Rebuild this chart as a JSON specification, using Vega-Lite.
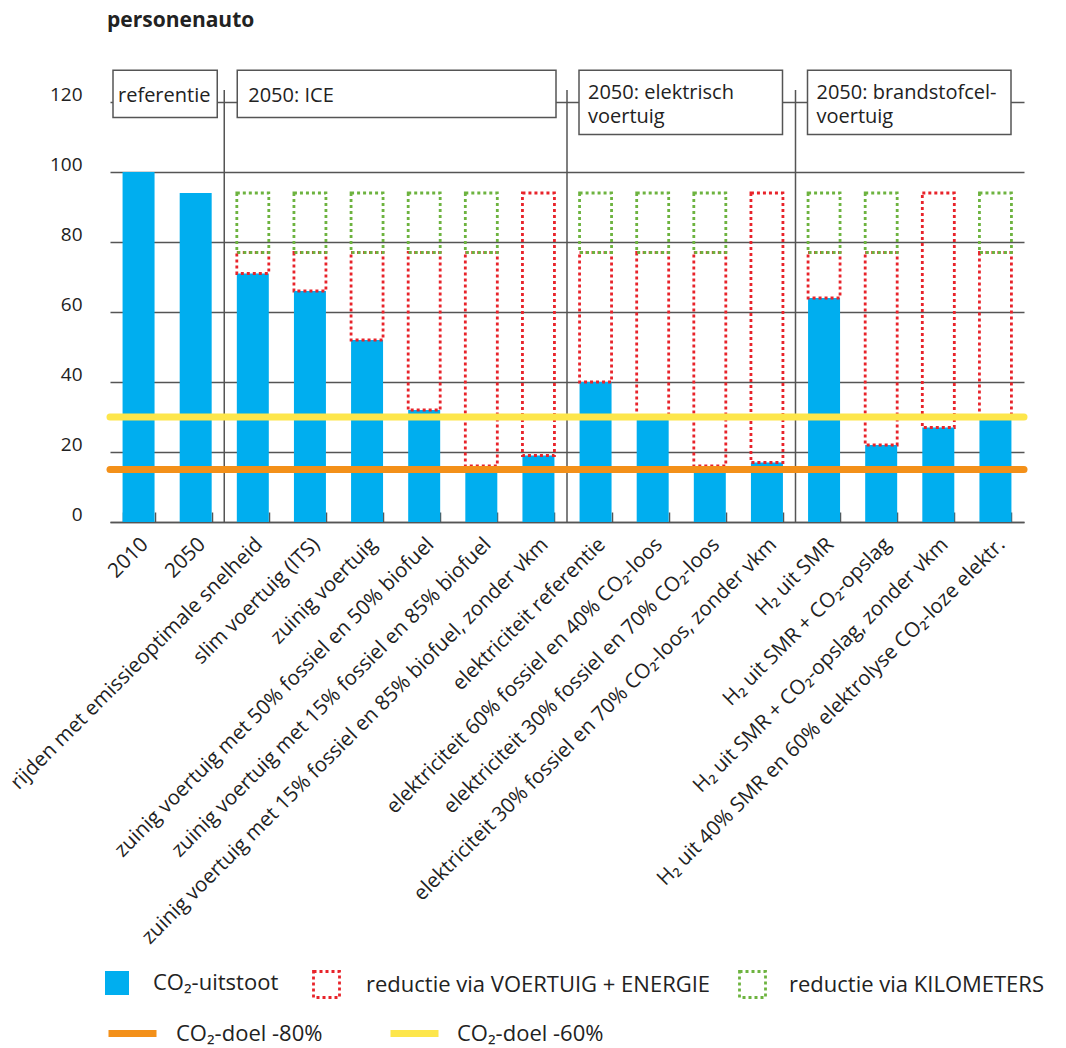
{
  "$schema": "https://vega.github.io/schema/vega-lite/v6.json",
  "width": 914,
  "height": 420,
  "autosize": {"type": "none"},
  "padding": {"left": 110, "top": 102, "right": 42, "bottom": 526},
  "background": "white",
  "title": {"text": "personenauto", "anchor": "start", "frame": "group", "font": "Open Sans", "fontSize": 21, "fontWeight": "bold", "color": "#222222", "baseline": "middle", "offset": 27, "dx": -3},
  "config": {"view": {"stroke": null}, "font": "Open Sans", "text": {"font": "Open Sans"}},
  "datasets": {
    "scen": [
      {"scenario": "2010", "co2": 100, "red_top": null, "green_top": null},
      {"scenario": "2050", "co2": 94, "red_top": null, "green_top": null},
      {"scenario": "rijden met emissieoptimale snelheid", "co2": 71, "red_top": 77, "green_top": 94},
      {"scenario": "slim voertuig (ITS)", "co2": 66, "red_top": 77, "green_top": 94},
      {"scenario": "zuinig voertuig", "co2": 52, "red_top": 77, "green_top": 94},
      {"scenario": "zuinig voertuig met 50% fossiel en 50% biofuel", "co2": 32, "red_top": 77, "green_top": 94},
      {"scenario": "zuinig voertuig met 15% fossiel en 85% biofuel", "co2": 16, "red_top": 77, "green_top": 94},
      {"scenario": "zuinig voertuig met 15% fossiel en 85% biofuel, zonder vkm", "co2": 19, "red_top": 94, "green_top": null},
      {"scenario": "elektriciteit referentie", "co2": 40, "red_top": 77, "green_top": 94},
      {"scenario": "elektriciteit 60% fossiel en 40% CO₂-loos", "co2": 30, "red_top": 77, "green_top": 94},
      {"scenario": "elektriciteit 30% fossiel en 70% CO₂-loos", "co2": 16, "red_top": 77, "green_top": 94},
      {"scenario": "elektriciteit 30% fossiel en 70% CO₂-loos, zonder vkm", "co2": 17, "red_top": 94, "green_top": null},
      {"scenario": "H₂ uit SMR", "co2": 64, "red_top": 77, "green_top": 94},
      {"scenario": "H₂ uit SMR + CO₂-opslag", "co2": 22, "red_top": 77, "green_top": 94},
      {"scenario": "H₂ uit SMR + CO₂-opslag, zonder vkm", "co2": 27, "red_top": 94, "green_top": null},
      {"scenario": "H₂ uit 40% SMR en 60% elektrolyse CO₂-loze elektr.", "co2": 30, "red_top": 77, "green_top": 94}
    ],
    "groups": [
      {"group": "referentie", "start": 0, "end": 2, "label": "referentie"},
      {"group": "ICE", "start": 2, "end": 8, "label": "2050: ICE"},
      {"group": "elektrisch", "start": 8, "end": 12, "label": "2050: elektrisch\nvoertuig"},
      {"group": "brandstofcel", "start": 12, "end": 16, "label": "2050: brandstofcel-\nvoertuig"}
    ],
    "doelen": [
      {"doel": "CO₂-doel -80%", "waarde": 15},
      {"doel": "CO₂-doel -60%", "waarde": 30}
    ]
  },
  "layer": [
    {
      "data": {"name": "groups"},
      "layer": [
        {
          "transform": [{"filter": "datum.start > 0"}],
          "mark": {"type": "rule", "stroke": "#555555", "strokeWidth": 1.5},
          "encoding": {
            "x": {"field": "start", "type": "quantitative", "scale": {"domain": [0, 16], "nice": false, "zero": false}, "axis": null},
            "y": {"datum": 0, "type": "quantitative", "scale": {"domain": [0, 120], "nice": false}, "title": null},
            "y2": {"datum": 123.4}
          }
        },
        {
          "transform": [{"filter": "datum.group === 'referentie'"}],
          "mark": {"type": "rect", "fill": "white", "stroke": "#555555", "strokeWidth": 1.5, "xOffset": 3, "x2Offset": -7},
          "encoding": {
            "x": {"field": "start", "type": "quantitative", "scale": {"domain": [0, 16], "nice": false, "zero": false}, "axis": null},
            "x2": {"field": "end"},
            "y": {"datum": 129.1, "type": "quantitative", "scale": {"domain": [0, 120], "nice": false}, "title": null},
            "y2": {"datum": 115.6}
          }
        },
        {
          "transform": [{"filter": "datum.group === 'ICE'"}],
          "mark": {"type": "rect", "fill": "white", "stroke": "#555555", "strokeWidth": 1.5, "xOffset": 13, "x2Offset": -11},
          "encoding": {
            "x": {"field": "start", "type": "quantitative", "scale": {"domain": [0, 16], "nice": false, "zero": false}, "axis": null},
            "x2": {"field": "end"},
            "y": {"datum": 129.1, "type": "quantitative", "scale": {"domain": [0, 120], "nice": false}, "title": null},
            "y2": {"datum": 115.6}
          }
        },
        {
          "transform": [{"filter": "datum.group === 'elektrisch' || datum.group === 'brandstofcel'"}],
          "mark": {"type": "rect", "fill": "white", "stroke": "#555555", "strokeWidth": 1.5, "xOffset": 12, "x2Offset": -13},
          "encoding": {
            "x": {"field": "start", "type": "quantitative", "scale": {"domain": [0, 16], "nice": false, "zero": false}, "axis": null},
            "x2": {"field": "end"},
            "y": {"datum": 129.1, "type": "quantitative", "scale": {"domain": [0, 120], "nice": false}, "title": null},
            "y2": {"datum": 110.7}
          }
        },
        {
          "transform": [{"filter": "datum.group === 'referentie'"}],
          "mark": {"type": "text", "align": "left", "baseline": "middle", "dx": 8, "fontSize": 20, "color": "#222222", "font": "Open Sans"},
          "encoding": {
            "x": {"field": "start", "type": "quantitative", "scale": {"domain": [0, 16], "nice": false, "zero": false}, "axis": null},
            "y": {"datum": 121.8, "type": "quantitative", "scale": {"domain": [0, 120], "nice": false}, "title": null},
            "text": {"field": "label"}
          }
        },
        {
          "transform": [{"filter": "datum.group === 'ICE'"}],
          "mark": {"type": "text", "align": "left", "baseline": "middle", "dx": 24, "fontSize": 20, "color": "#222222", "font": "Open Sans"},
          "encoding": {
            "x": {"field": "start", "type": "quantitative", "scale": {"domain": [0, 16], "nice": false, "zero": false}, "axis": null},
            "y": {"datum": 121.8, "type": "quantitative", "scale": {"domain": [0, 120], "nice": false}, "title": null},
            "text": {"field": "label"}
          }
        },
        {
          "transform": [{"filter": "datum.group === 'elektrisch' || datum.group === 'brandstofcel'"}],
          "mark": {"type": "text", "align": "left", "baseline": "middle", "dx": 21, "fontSize": 20, "lineHeight": 24, "lineBreak": "\n", "color": "#222222", "font": "Open Sans"},
          "encoding": {
            "x": {"field": "start", "type": "quantitative", "scale": {"domain": [0, 16], "nice": false, "zero": false}, "axis": null},
            "y": {"datum": 122.6, "type": "quantitative", "scale": {"domain": [0, 120], "nice": false}, "title": null},
            "text": {"field": "label"}
          }
        }
      ]
    },
    {
      "layer": [
        {
          "data": {"name": "scen"},
          "mark": {"type": "bar"},
          "encoding": {
            "x": {"field": "scenario", "type": "nominal", "sort": null, "scale": {"paddingInner": 0.44, "paddingOuter": 0.22},
              "axis": {"title": null, "labelAngle": -45, "labelAlign": "right", "labelBaseline": "middle", "labelFontSize": 20.5, "labelFont": "Open Sans", "labelColor": "#222222", "labelLimit": 1000, "labelPadding": 29, "labelOffset": 6, "tickBand": "extent", "tickSize": -10, "tickColor": "#555555", "tickWidth": 1.5, "domainColor": "#555555", "domainWidth": 1.5, "grid": false}},
            "y": {"field": "co2", "type": "quantitative", "scale": {"domain": [0, 120], "nice": false},
              "axis": {"title": null, "values": [0, 20, 40, 60, 80, 100, 120], "grid": true, "gridColor": "#555555", "gridWidth": 1.3, "domain": false, "ticks": false, "labelFontSize": 19, "labelFont": "Open Sans", "labelColor": "#222222", "labelPadding": 28, "labelBaseline": "alphabetic", "labelOffset": -2}},
            "color": {"datum": "CO₂-uitstoot", "type": "nominal", "scale": {"range": ["#00AEEF"]},
              "legend": {"orient": "none", "legendX": -5, "legendY": 869, "title": null, "padding": 0, "symbolType": "square", "symbolSize": 576, "symbolStrokeWidth": 0, "labelFontSize": 22, "labelFont": "Open Sans", "labelColor": "#222222", "labelOffset": 24, "labelLimit": 600}}
          }
        },
        {
          "data": {"name": "scen"},
          "transform": [{"filter": "datum.red_top != null"}],
          "mark": {"type": "rect", "filled": false, "strokeDash": [3, 3], "strokeWidth": 2.8},
          "encoding": {
            "x": {"field": "scenario", "type": "nominal", "sort": null, "scale": {"paddingInner": 0.44, "paddingOuter": 0.22}},
            "y": {"field": "co2", "type": "quantitative", "scale": {"domain": [0, 120], "nice": false}, "title": null},
            "y2": {"field": "red_top"},
            "color": {"datum": "reductie via VOERTUIG + ENERGIE", "type": "nominal", "scale": {"range": ["#E8232A"]},
              "legend": {"orient": "none", "legendX": 202, "legendY": 868, "title": null, "padding": 0, "symbolType": "square", "symbolSize": 676, "symbolStrokeWidth": 2.8, "symbolDash": [3, 3], "symbolFillColor": "white", "labelFontSize": 22, "labelFont": "Open Sans", "labelColor": "#222222", "labelOffset": 25, "labelLimit": 600}}
          }
        },
        {
          "data": {"name": "scen"},
          "transform": [{"filter": "datum.green_top != null"}],
          "mark": {"type": "rect", "filled": false, "strokeDash": [3, 3], "strokeWidth": 2.8},
          "encoding": {
            "x": {"field": "scenario", "type": "nominal", "sort": null, "scale": {"paddingInner": 0.44, "paddingOuter": 0.22}},
            "y": {"field": "red_top", "type": "quantitative", "scale": {"domain": [0, 120], "nice": false}, "title": null},
            "y2": {"field": "green_top"},
            "color": {"datum": "reductie via KILOMETERS", "type": "nominal", "scale": {"range": ["#6DB33F"]},
              "legend": {"orient": "none", "legendX": 628, "legendY": 868, "title": null, "padding": 0, "symbolType": "square", "symbolSize": 676, "symbolStrokeWidth": 2.8, "symbolDash": [3, 3], "symbolFillColor": "white", "labelFontSize": 22, "labelFont": "Open Sans", "labelColor": "#222222", "labelOffset": 22, "labelLimit": 600}}
          }
        },
        {
          "data": {"name": "doelen"},
          "transform": [{"filter": "datum.waarde === 30"}],
          "mark": {"type": "rule", "strokeWidth": 7, "strokeCap": "round"},
          "encoding": {
            "y": {"field": "waarde", "type": "quantitative", "scale": {"domain": [0, 120], "nice": false}, "title": null},
            "color": {"field": "doel", "type": "nominal", "scale": {"range": ["#FDE64B"]},
              "legend": {"orient": "none", "legendX": 277, "legendY": 904, "title": null, "padding": 0, "symbolType": "stroke", "symbolSize": 2304, "symbolStrokeWidth": 7, "labelFontSize": 22, "labelFont": "Open Sans", "labelColor": "#222222", "labelOffset": 15, "labelLimit": 600}}
          }
        },
        {
          "data": {"name": "doelen"},
          "transform": [{"filter": "datum.waarde === 15"}],
          "mark": {"type": "rule", "strokeWidth": 7, "strokeCap": "round"},
          "encoding": {
            "y": {"field": "waarde", "type": "quantitative", "scale": {"domain": [0, 120], "nice": false}, "title": null},
            "color": {"field": "doel", "type": "nominal", "scale": {"range": ["#F39019"]},
              "legend": {"orient": "none", "legendX": -5, "legendY": 904, "title": null, "padding": 0, "symbolType": "stroke", "symbolSize": 2304, "symbolStrokeWidth": 7, "labelFontSize": 22, "labelFont": "Open Sans", "labelColor": "#222222", "labelOffset": 16, "labelLimit": 600}}
          }
        }
      ],
      "resolve": {"scale": {"color": "independent"}, "legend": {"color": "independent"}}
    }
  ],
  "resolve": {"scale": {"x": "independent"}}
}
